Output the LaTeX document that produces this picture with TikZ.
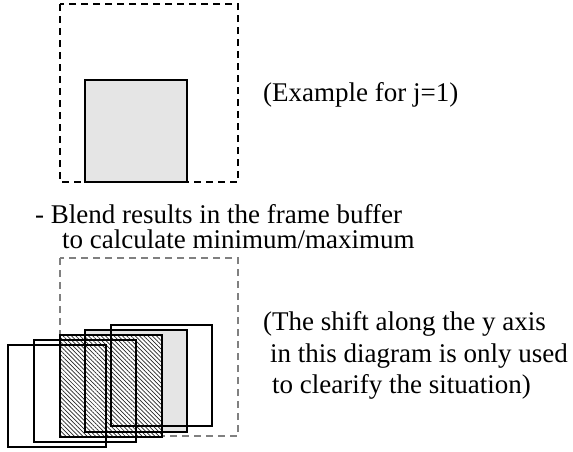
\documentclass[tikz,border=0pt]{standalone}
\usepackage{fontspec}
\setmainfont{Liberation Serif}
\usetikzlibrary{patterns.meta}
\definecolor{lightfill}{HTML}{E5E5E5}
\definecolor{framegrey}{HTML}{808080}
\tikzset{
  frameA/.style={draw=black, line width=1.2pt, dash pattern=on 7pt off 5pt},
  frameB/.style={draw=framegrey, line width=1.2pt, dash pattern=on 7pt off 5pt},
  sq/.style={draw=black, line width=1.8pt},
  greysq/.style={fill=lightfill},
  hatchsq/.style={fill=white, postaction={pattern={Lines[angle=-45,distance=3pt,line width=0.7pt]}, pattern color=black!85}},
  label/.style={inner sep=0pt, anchor=base west, font=\fontsize{27}{31}\selectfont}
}
\begin{document}
\begin{tikzpicture}[x=1pt,y=-1pt]
\useasboundingbox (0,0) rectangle (573,451);
% top example
\draw[frameA] (60,4) rectangle (238,182);
\draw[sq, line width=1.5pt, greysq] (85,80) rectangle (187,182);
\node[label] (ex) at (263,101) {(Example for j=1)};
% caption
\node[label] (bl1) at (35,223) {- Blend results in the frame buffer};
\node[label] (bl2) at (62,248) {to calculate minimum/maximum};
% bottom frame
\draw[frameB] (60,258) rectangle (238,436);
% fills
\fill[lightfill] (85,330) rectangle (187,432);
\path[hatchsq] (60,335) rectangle (162,437);
% outlines
\draw[sq] (8,345) rectangle (106,447);
\draw[sq] (34,340) rectangle (136,442);
\draw[sq] (60,335) rectangle (162,437);
\draw[sq] (85,330) rectangle (187,432);
\draw[sq] (111,325) rectangle (212,426);
% side text
\node[label] (s1) at (263,330) {(The shift along the y axis};
\node[label] (s2) at (270,362) {in this diagram is only used};
\node[label] (s3) at (272,393) {to clearify the situation)};
\end{tikzpicture}
\end{document}
